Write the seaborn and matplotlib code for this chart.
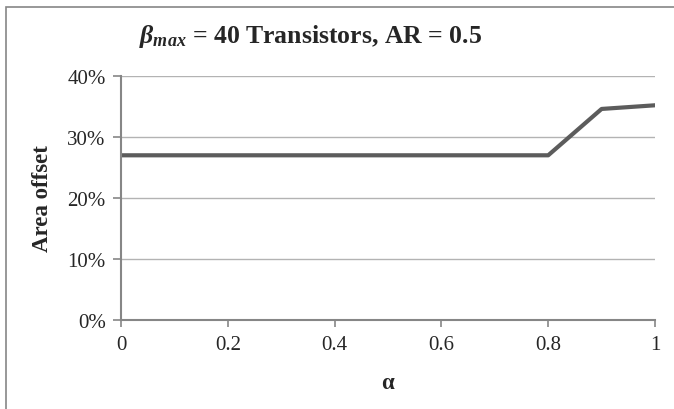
import matplotlib
matplotlib.use("Agg")
import matplotlib.pyplot as plt
import seaborn as sns
import pandas as pd
from matplotlib.ticker import PercentFormatter
from matplotlib.patches import Rectangle

# Data
alpha = [0.0, 0.1, 0.2, 0.3, 0.4, 0.5, 0.6, 0.7, 0.8, 0.9, 1.0]
area_offset = [27.0, 27.0, 27.0, 27.0, 27.0, 27.0, 27.0, 27.0, 27.0, 34.6, 35.2]
x_ticks = [0, 0.2, 0.4, 0.6, 0.8, 1]
x_tick_labels = ["0", "0.2", "0.4", "0.6", "0.8", "1"]
y_ticks = [0, 10, 20, 30, 40]

sns.set_style("white")
plt.rcParams["font.family"] = ["Liberation Serif", "DejaVu Serif"]
plt.rcParams["mathtext.fontset"] = "custom"
plt.rcParams["mathtext.it"] = "Liberation Serif:italic:bold"
plt.rcParams["mathtext.rm"] = "Liberation Serif:bold"
plt.rcParams["mathtext.bf"] = "Liberation Serif:bold"

df = pd.DataFrame({"alpha": alpha, "offset": area_offset})

fig = plt.figure(figsize=(6.74, 4.10), dpi=100)
ax = fig.add_axes([121 / 674, 1 - 321 / 410, (655 - 121) / 674, (321 - 77) / 410])

sns.lineplot(data=df, x="alpha", y="offset", ax=ax, color="#5c5c5c", linewidth=3)

ax.set_xlim(0, 1)
ax.set_ylim(0, 40)
ax.set_xticks(x_ticks)
ax.set_xticklabels(x_tick_labels)
ax.set_yticks(y_ticks)
ax.yaxis.set_major_formatter(PercentFormatter(decimals=0))

ax.grid(axis="y", color="#b3b3b3", linewidth=1)
ax.set_axisbelow(True)
for side in ["top", "right"]:
    ax.spines[side].set_visible(False)
for side in ["left", "bottom"]:
    ax.spines[side].set_color("#868686")
    ax.spines[side].set_linewidth(1.5)

ax.tick_params(axis="both", which="major", labelsize=15, color="#868686",
               width=1.2, length=6, direction="out", left=True, bottom=True)
ax.tick_params(axis="x", length=5, pad=6)
ax.tick_params(axis="y", pad=5)

ax.set_xlabel("α", fontsize=16.5, fontweight="bold", labelpad=13)
ax.set_ylabel("Area offset", fontsize=16.5, fontweight="bold", labelpad=10)

fig.text(311 / 674, 1 - 36 / 410, r"$\beta_{max}$ = 40 Transistors, AR = 0.5",
         ha="center", va="center", fontsize=18.5, fontweight="bold")

# outer chart border (cut off at the right and bottom edges)
fig.patches.append(Rectangle((5.5 / 674, -0.05), 1.0, 1 - 8 / 410 + 0.05,
                             transform=fig.transFigure, fill=False,
                             edgecolor="#868686", linewidth=1.2))

fig.savefig("out.png", dpi=100)
